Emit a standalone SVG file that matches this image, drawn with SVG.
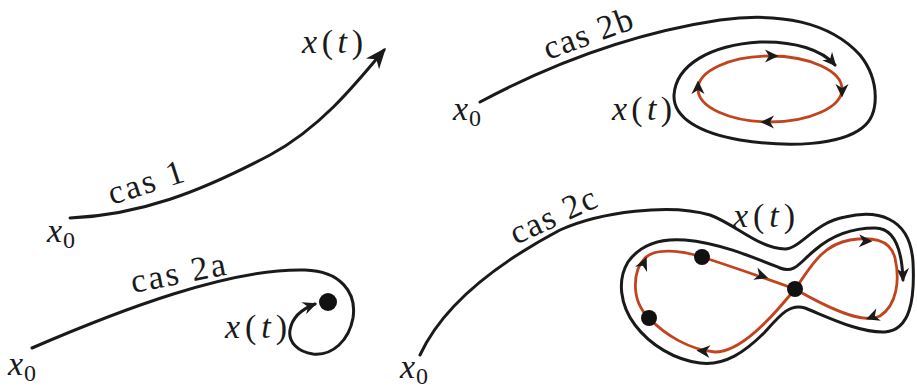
<svg xmlns="http://www.w3.org/2000/svg" width="917" height="388" viewBox="0 0 917 388">
<style>
.traj{fill:none;stroke:#1a1a1a;stroke-width:3;stroke-linecap:round;stroke-linejoin:round}
.orb{fill:none;stroke:#c1441e;stroke-width:2.8}
.lbl{font-family:'Liberation Serif','DejaVu Serif','Noto Serif',serif;font-size:34px;fill:#1a1a1a}
.m{font-style:italic}
.sub{font-size:24px}
.dot{fill:#111}
</style>
<defs>
<marker id="big" markerUnits="userSpaceOnUse" viewBox="-22 -10 25 20" markerWidth="25" markerHeight="20" refX="-3" refY="0" orient="auto">
<path d="M0,0 L-21,-8.5 L-15,0 L-21,8.5 Z" fill="#1a1a1a"/>
</marker>
<marker id="ah" markerUnits="userSpaceOnUse" viewBox="-15 -8 17 16" markerWidth="17" markerHeight="16" refX="-2" refY="0" orient="auto">
<path d="M0,0 L-14,-6.5 L-9.5,0 L-14,6.5 Z" fill="#1a1a1a"/>
</marker>
<path id="rh" d="M6.5,0 L-7,-6.5 L-3,0 L-7,6.5 Z" fill="#1a1a1a"/>
</defs>

<g id="cas1">
<path class="traj" d="M70,218 C140,215 200,192 270,155 C320,128 355,85 384,50" marker-end="url(#big)"/>
<text class="lbl" x="302" y="53" textLength="61" lengthAdjust="spacing"><tspan class="m">x</tspan>(<tspan class="m">t</tspan>)</text>
<text class="lbl" x="47" y="242"><tspan class="m">x</tspan><tspan class="sub" dx="1" dy="6">0</tspan></text>
<text class="lbl" transform="translate(112,205) rotate(-18)" textLength="78" lengthAdjust="spacing">cas 1</text>
</g>

<g id="cas2a">
<path class="traj" d="M32,348 C120,310 230,268 305,270 C340,271 357,292 353,318 C349,340 333,356 313,354 C298,352 288,342 290,330 C292,318 302,309 315,304" marker-end="url(#ah)"/>
<circle class="dot" cx="328" cy="302" r="9"/>
<text class="lbl" x="8" y="375"><tspan class="m">x</tspan><tspan class="sub" dx="1" dy="6">0</tspan></text>
<text class="lbl" transform="translate(133,293) rotate(-11)" textLength="96" lengthAdjust="spacing">cas 2a</text>
<text class="lbl" x="225" y="338" textLength="62" lengthAdjust="spacing"><tspan class="m">x</tspan>(<tspan class="m">t</tspan>)</text>
</g>

<g id="cas2b">
<path class="traj" d="M480,102 C540,70 620,35 720,20 C780,12 830,22 860,55 C880,80 880,115 862,128 C840,145 790,148 740,140 C700,133 673,118 674,95 C676,65 710,45 760,42 C795,41 822,50 835,65" marker-end="url(#ah)"/>
<ellipse class="orb" cx="770" cy="89" rx="72" ry="33"/>
<use href="#rh" transform="translate(772,56)"/>
<use href="#rh" transform="translate(842,91) rotate(90)"/>
<use href="#rh" transform="translate(767,122) rotate(180)"/>
<use href="#rh" transform="translate(698,87) rotate(-90)"/>
<text class="lbl" x="453" y="120"><tspan class="m">x</tspan><tspan class="sub" dx="1" dy="6">0</tspan></text>
<text class="lbl" transform="translate(548,60) rotate(-20)" textLength="93" lengthAdjust="spacing">cas 2b</text>
<text class="lbl" x="612" y="120" textLength="60" lengthAdjust="spacing"><tspan class="m">x</tspan>(<tspan class="m">t</tspan>)</text>
</g>

<g id="cas2c">
<path class="traj" d="M420,355 C437,318 475,275 560,230 C600,212 670,203 710,215 C735,224 760,249 785,249 C800,249 815,222 845,217 C875,210 910,215 913,262 C915,300 910,330 885,332 C860,333 830,318 805,308 C790,303 780,315 765,332 C745,352 725,366 700,363 C675,360 650,345 635,325 C620,305 617,280 628,262 C640,245 660,238 685,240 C720,243 755,258 780,268 C795,274 800,262 815,250 C830,237 850,228 875,228 C895,228 902,250 903,280" marker-end="url(#ah)"/>
<path class="orb" d="M795,289 C770,280 730,266 702,257 C680,250 655,248 645,258 C633,270 630,300 649,318 C665,335 690,350 715,352 C740,352 770,320 795,289 Z"/>
<path class="orb" d="M795,289 C808,272 820,245 850,240 C870,237 890,238 895,258 C900,280 897,305 880,316 C865,324 835,312 795,289 Z"/>
<use href="#rh" transform="translate(644,263) rotate(-66)"/>
<use href="#rh" transform="translate(762,276) rotate(19)"/>
<use href="#rh" transform="translate(703,351) rotate(185)"/>
<use href="#rh" transform="translate(866,241) rotate(2)"/>
<use href="#rh" transform="translate(872,317) rotate(160)"/>
<circle class="dot" cx="702" cy="257" r="8"/>
<circle class="dot" cx="649" cy="318" r="8"/>
<circle class="dot" cx="795" cy="289" r="8"/>
<text class="lbl" x="400" y="378"><tspan class="m">x</tspan><tspan class="sub" dx="1" dy="6">0</tspan></text>
<text class="lbl" transform="translate(516,245) rotate(-25)" textLength="92" lengthAdjust="spacing">cas 2c</text>
<text class="lbl" x="733" y="227" textLength="62" lengthAdjust="spacing"><tspan class="m">x</tspan>(<tspan class="m">t</tspan>)</text>
</g>
</svg>
